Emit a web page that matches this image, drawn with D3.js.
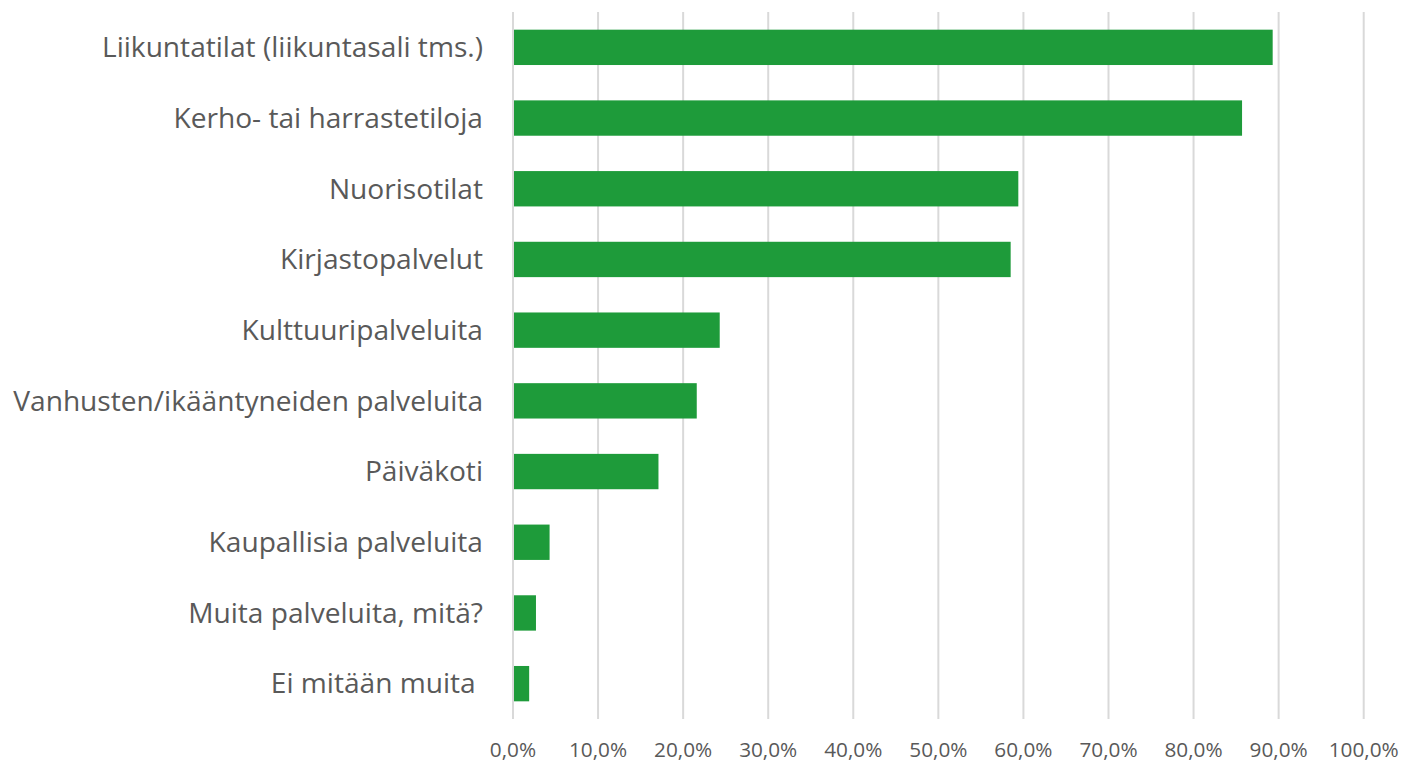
<!DOCTYPE html>
<html><head><meta charset="utf-8">
<script src="https://cdn.jsdelivr.net/npm/d3@7"></script>
<style>body{margin:0;background:#fff}svg{display:block}text{white-space:pre}</style>
</head><body>
<svg id="c" width="1402" height="762"></svg>
<script>
const categories = ["Liikuntatilat (liikuntasali tms.)","Kerho- tai harrastetiloja","Nuorisotilat","Kirjastopalvelut","Kulttuuripalveluita","Vanhusten/ikääntyneiden palveluita","Päiväkoti","Kaupallisia palveluita","Muita palveluita, mitä?","Ei mitään muita "];
const values = [89.3, 85.7, 59.4, 58.5, 24.3, 21.6, 17.1, 4.3, 2.7, 1.9];
const tickValues = [0,10,20,30,40,50,60,70,80,90,100];
const tickLabels = ["0,0%","10,0%","20,0%","30,0%","40,0%","50,0%","60,0%","70,0%","80,0%","90,0%","100,0%"];

const svg = d3.select("#c");
const font = "'Open Sans', sans-serif";
const x = d3.scaleLinear().domain([0,100]).range([513,1363.7]);
const y = d3.scaleBand().domain(categories).range([12,719]).paddingInner(0.5).paddingOuter(0.25);

function fitSize(str, target, base){
  const t = svg.append("text").attr("font-family",font).attr("font-size",base).text(str);
  const w = t.node().getComputedTextLength(); t.remove();
  return base*target/w;
}
const catSize = fitSize("Vanhusten/ikääntyneiden palveluita", 470, 24);
const tickSize = Math.max(fitSize("100,0%", 70, 20), 19.5);

svg.append("g").selectAll("line").data(tickValues).join("line")
  .attr("x1",d=>x(d)).attr("x2",d=>x(d)).attr("y1",12).attr("y2",719)
  .attr("stroke","#d9d9d9").attr("stroke-width",2);

svg.append("g").selectAll("rect").data(categories).join("rect")
  .attr("x",x(0)+1).attr("y",d=>y(d))
  .attr("width",(d,i)=>x(values[i])-x(0)-1).attr("height",y.bandwidth())
  .attr("fill","#1e9b3a");

svg.append("g").selectAll("text").data(categories).join("text")
  .attr("x",483).attr("y",d=>y(d)+y.bandwidth()/2).attr("dy","0.35em")
  .attr("text-anchor","end").attr("font-family",font).attr("font-size",catSize)
  .attr("fill","#595959").text(d=>d);

svg.append("g").selectAll("text").data(tickValues).join("text")
  .attr("x",d=>x(d)).attr("y",750).attr("dy","0.35em")
  .attr("text-anchor","middle").attr("font-family",font).attr("font-size",tickSize)
  .attr("fill","#595959").text((d,i)=>tickLabels[i]);
</script>
</body></html>
